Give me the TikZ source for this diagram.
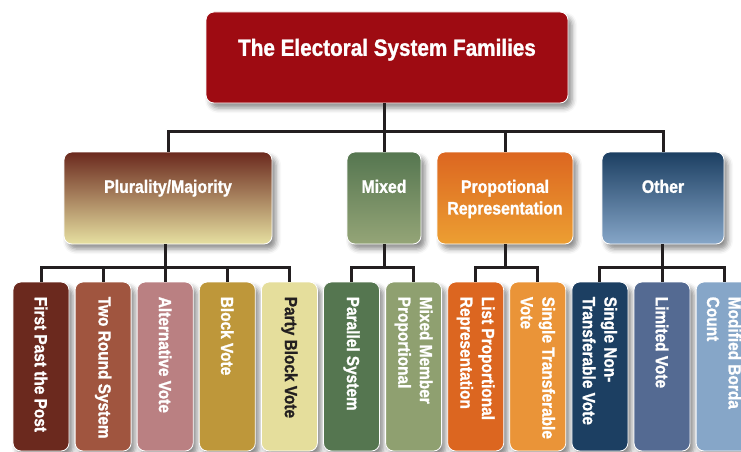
\documentclass[tikz,border=0pt]{standalone}
\usepackage{fontspec}
\setmainfont{Liberation Sans}[FakeStretch=0.88,BoldFeatures={FakeBold=1.2}]
\usetikzlibrary{shadows.blur}
\definecolor{wirecol}{HTML}{231F20}
\definecolor{titlered}{HTML}{9E0B12}
\definecolor{fptpcol}{HTML}{6B291E}
\definecolor{tworcol}{HTML}{A0553F}
\definecolor{altcol}{HTML}{BA8082}
\definecolor{blockcol}{HTML}{BE973A}
\definecolor{partycol}{HTML}{E5DE9C}
\definecolor{parcol}{HTML}{557650}
\definecolor{mmpcol}{HTML}{8FA070}
\definecolor{listcol}{HTML}{DC6620}
\definecolor{stvcol}{HTML}{EA9438}
\definecolor{sntvcol}{HTML}{1C3F62}
\definecolor{limcol}{HTML}{546A92}
\definecolor{bordacol}{HTML}{86A6C8}

\begin{document}
\begin{tikzpicture}[x=1pt,y=1pt,
   box/.style={rounded corners=8pt,draw=white,line width=0.8pt,inner sep=0pt,
      blur shadow={shadow xshift=4pt,shadow yshift=-5pt,shadow blur radius=5pt,shadow opacity=45}},
   catbox/.style={box,minimum height=92pt},
   leafbox/.style={box,minimum width=56pt,minimum height=169pt},
   titletext/.style={anchor=north,inner sep=0pt,text=white,font=\fontsize{23.5}{28}\selectfont\bfseries},
   cattext/.style={anchor=north,inner sep=0pt,align=center,text=white,font=\fontsize{18}{21.6}\selectfont\bfseries},
   leaftext/.style={rotate=-90,anchor=west,inner sep=0pt,align=left,text=white,font=\fontsize{17.5}{21.6}\selectfont\bfseries},
   wire/.style={draw=wirecol,line width=3pt}]
   \useasboundingbox (0,0) rectangle (741,-452);
   \clip (0,0) rectangle (741,-452);

   \node[box,fill=titlered,minimum width=362pt,minimum height=91pt] (family) at (387,-57.5) {};
   \node[catbox,minimum width=208pt,top color=fptpcol,middle color={fptpcol!55!partycol},bottom color=partycol!95!white] (plural) at (168,-198) {};
   \node[catbox,minimum width=74pt,top color=parcol,bottom color=mmpcol!95!white] (mixed) at (384,-198) {};
   \node[catbox,minimum width=136pt,top color=listcol,bottom color=stvcol!90!yellow] (propor) at (505,-198) {};
   \node[catbox,minimum width=122pt,top color=sntvcol,middle color={sntvcol!55!bordacol},bottom color=bordacol] (other) at (663,-198) {};

   \node[leafbox,fill=fptpcol] (fptp) at (41,-366.5) {};
   \node[leafbox,fill=tworcol] (twor) at (103.1,-366.5) {};
   \node[leafbox,fill=altcol] (alt) at (165.2,-366.5) {};
   \node[leafbox,fill=blockcol] (block) at (227.3,-366.5) {};
   \node[leafbox,fill=partycol] (party) at (289.4,-366.5) {};
   \node[leafbox,fill=parcol] (parallel) at (351.5,-366.5) {};
   \node[leafbox,fill=mmpcol] (mmp) at (413.6,-366.5) {};
   \node[leafbox,fill=listcol] (listpr) at (475.7,-366.5) {};
   \node[leafbox,fill=stvcol] (stv) at (537.8,-366.5) {};
   \node[leafbox,fill=sntvcol] (sntv) at (599.9,-366.5) {};
   \node[leafbox,fill=limcol] (limited) at (662,-366.5) {};
   \node[leafbox,fill=bordacol] (borda) at (724.1,-366.5) {};

   \draw[wire] (family.south -| mixed.north) |- ([yshift=20pt]plural.north) -- (plural.north);
   \draw[wire] (family.south -| mixed.north) -- (mixed.north);
   \draw[wire] (family.south -| mixed.north) |- ([yshift=20pt]propor.north) -- (propor.north);
   \draw[wire] (family.south -| mixed.north) |- ([yshift=20pt]other.north) -- (other.north);

   \draw[wire] (plural.south -| alt.north) |- ([yshift=14pt]fptp.north) -- (fptp.north);
   \draw[wire] (plural.south -| alt.north) |- ([yshift=14pt]twor.north) -- (twor.north);
   \draw[wire] (plural.south -| alt.north) -- (alt.north);
   \draw[wire] (plural.south -| alt.north) |- ([yshift=14pt]block.north) -- (block.north);
   \draw[wire] (plural.south -| alt.north) |- ([yshift=14pt]party.north) -- (party.north);
   \draw[wire] (mixed.south) |- ([yshift=14pt]parallel.north) -- (parallel.north);
   \draw[wire] (mixed.south) |- ([yshift=14pt]mmp.north) -- (mmp.north);
   \draw[wire] (propor.south) |- ([yshift=14pt]listpr.north) -- (listpr.north);
   \draw[wire] (propor.south) |- ([yshift=14pt]stv.north) -- (stv.north);
   \draw[wire] (other.south -| limited.north) |- ([yshift=14pt]sntv.north) -- (sntv.north);
   \draw[wire] (other.south -| limited.north) -- (limited.north);
   \draw[wire] (other.south -| limited.north) |- ([yshift=14pt]borda.north) -- (borda.north);

   \node[titletext] (familytxt) at ([yshift=-27pt]family.north) {The Electoral System Families};
   \node[cattext] (pluraltxt) at ([yshift=-28pt]plural.north) {Plurality/Majority};
   \node[cattext] (mixedtxt) at ([yshift=-28pt]mixed.north) {Mixed};
   \node[cattext] (proportxt) at ([yshift=-28pt]propor.north) {Propotional\\Representation};
   \node[cattext] (othertxt) at ([yshift=-28pt]other.north) {Other};

   \node[leaftext] (fptptxt) at ([yshift=-15pt]fptp.north) {First Past the Post};
   \node[leaftext] (twortxt) at ([yshift=-15pt]twor.north) {Two Round System};
   \node[leaftext] (alttxt) at ([yshift=-15pt]alt.north) {Alternative Vote};
   \node[leaftext] (blocktxt) at ([yshift=-15pt]block.north) {Block Vote};
   \node[leaftext,text=wirecol] (partytxt) at ([yshift=-15pt]party.north) {Party Block Vote};
   \node[leaftext] (paralleltxt) at ([yshift=-15pt]parallel.north) {Parallel System};
   \node[leaftext] (mmptxt) at ([yshift=-15pt]mmp.north) {Mixed Member\\Proportional};
   \node[leaftext] (listprtxt) at ([yshift=-15pt]listpr.north) {List Proportional\\Representation};
   \node[leaftext] (stvtxt) at ([yshift=-15pt]stv.north) {Single Transferable\\Vote};
   \node[leaftext] (sntvtxt) at ([yshift=-15pt]sntv.north) {Single Non-\\Transferable Vote};
   \node[leaftext] (limitedtxt) at ([yshift=-15pt]limited.north) {Limited Vote};
   \node[leaftext] (bordatxt) at ([yshift=-15pt]borda.north) {Modified Borda\\Count};
\end{tikzpicture}
\end{document}
